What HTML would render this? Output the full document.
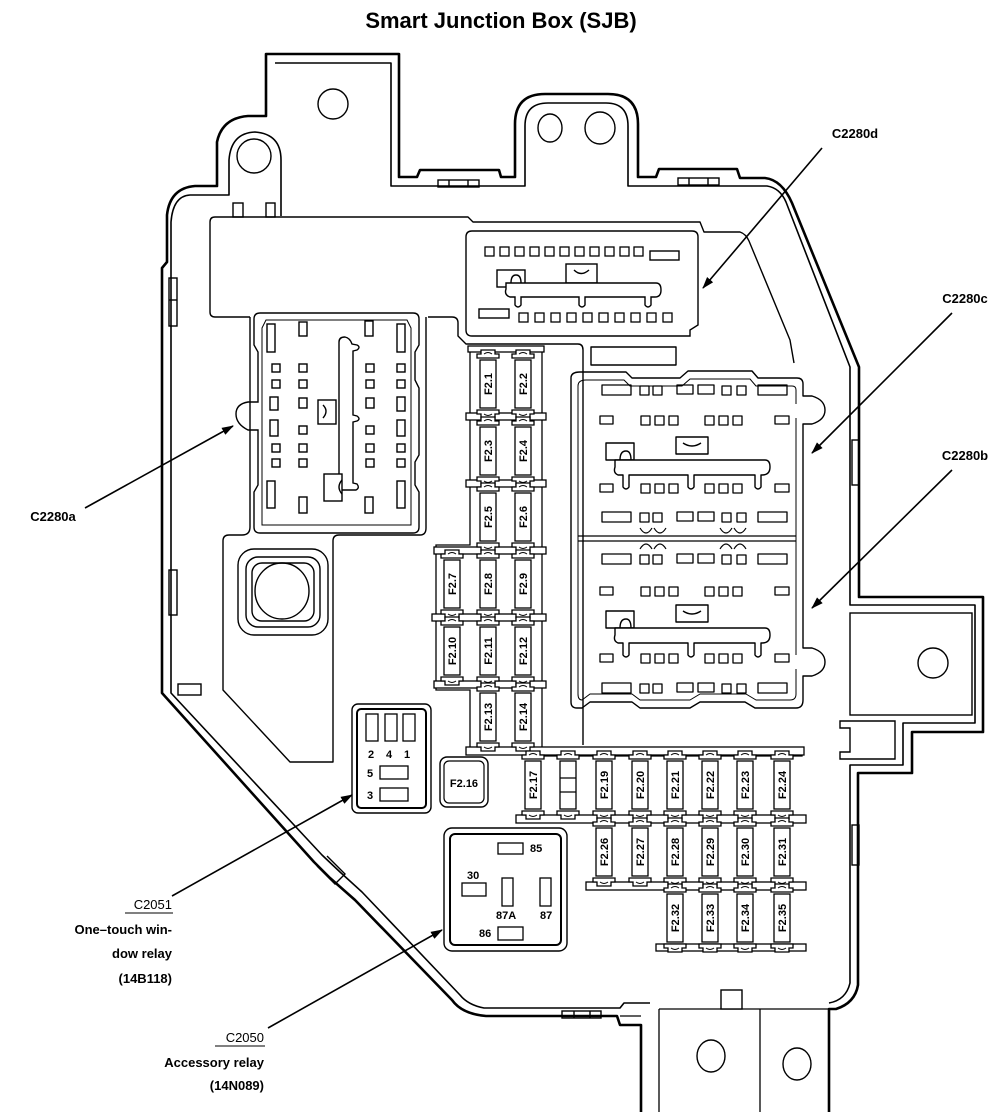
<!DOCTYPE html>
<html><head><meta charset="utf-8"><style>
html,body{margin:0;padding:0;background:#fff}
svg{display:block}
text{font-family:"Liberation Sans",Arial,sans-serif;fill:#000}
.f{font-size:11px;font-weight:bold}
.l{font-size:13px;font-weight:bold}
</style></head><body>
<svg width="1003" height="1119" viewBox="0 0 1003 1119" xmlns="http://www.w3.org/2000/svg">
<defs>
<marker id="ar" markerWidth="12" markerHeight="8" refX="11" refY="4" orient="auto" markerUnits="userSpaceOnUse"><path d="M0,0 L12,4 L0,8 z" fill="#000"/></marker>
<g id="fz">
<path d="M-11,-26 L-11,-30 L-7,-30 L-7,-34 L7,-34 L7,-30 L11,-30 L11,-26 Z" fill="#fff" stroke="#000" stroke-width="1.3"/>
<path d="M-11,26 L-11,30 L-7,30 L-7,34 L7,34 L7,30 L11,30 L11,26 Z" fill="#fff" stroke="#000" stroke-width="1.3"/>
<rect x="-8" y="-24" width="16" height="48" fill="#fff" stroke="#000" stroke-width="1.3"/>
<path d="M-4,-30 Q0,-33 4,-30 M-4,30 Q0,33 4,30" fill="none" stroke="#000" stroke-width="1"/>
</g>
<rect id="sq" width="9" height="9" fill="#fff" stroke="#000" stroke-width="1.3"/>
<g id="rowA">
<rect x="602" y="0" width="29" height="10" fill="none" stroke="#000" stroke-width="1.3"/>
<use href="#sq" x="640" y="1"/><use href="#sq" x="653" y="1"/>
<rect x="677" y="0" width="16" height="9" fill="none" stroke="#000" stroke-width="1.3"/>
<rect x="698" y="0" width="16" height="9" fill="none" stroke="#000" stroke-width="1.3"/>
<use href="#sq" x="722" y="1"/><use href="#sq" x="737" y="1"/>
<rect x="758" y="0" width="29" height="10" fill="none" stroke="#000" stroke-width="1.3"/>
</g>
<g id="rowB">
<rect x="600" y="0" width="13" height="8" fill="none" stroke="#000" stroke-width="1.3"/>
<use href="#sq" x="641" y="0"/><use href="#sq" x="655" y="0"/><use href="#sq" x="669" y="0"/>
<use href="#sq" x="705" y="0"/><use href="#sq" x="719" y="0"/><use href="#sq" x="733" y="0"/>
<rect x="775" y="0" width="14" height="8" fill="none" stroke="#000" stroke-width="1.3"/>
</g>
<g id="latch" fill="#fff" stroke="#000" stroke-width="1.4">
<rect x="606" y="0" width="28" height="17"/>
<rect x="676" y="-6" width="32" height="17"/>
<path d="M683,0 Q692,6 701,0" fill="none"/>
<path d="M615,17 L765,17 Q770,17 770,24 Q770,32 762,32 L761,32 L761,44 Q758,48 755,44 L755,32 L694,32 L694,44 Q691,48 688,44 L688,32 L629,32 L629,44 Q626,48 623,44 L623,32 L618,32 Q613,30 615,24 Z"/>
<path d="M620,17 Q620,8 626,8 Q631,8 631,17" fill="none"/>
</g>
</defs>

<text x="501" y="28" text-anchor="middle" style="font-size:22px;font-weight:bold">Smart Junction Box (SJB)</text>

<!-- outer housing -->
<g fill="none" stroke="#000" stroke-linejoin="round">
<path stroke-width="2.6" d="M641,1112 L641,1025 L620,1025 L617,1016 L486,1016 Q462,1014 452,1000 L355,900 L330,878 L314,862 L162,693 L162,268 L167,262 L167,215 Q170,188 195,186 L217,186 L217,142 Q222,118 248,116 L266,116 L266,54 L399,54 L399,177 L417,177 L420,170 L499,170 L501,177 L515,177 L515,124 Q515,94 545,94 L608,94 Q638,94 638,124 L638,177 L656,177 L659,169 L737,169 L740,178 L765,178 Q782,180 792,203 L859,367 L859,597 L983,597 L983,732 L912,732 L912,773 L858,773 L858,985 Q855,1003 836,1009 L829,1009 L829,1112"/>
<path stroke-width="1.6" d="M281,216 L281,160 Q281,134 255,132 Q231,133 229,160 L229,195 L190,195 Q173,196 171,222 L171,693 L322,855 L340,872 L362,892 L460,995 Q468,1005 484,1008 L620,1008 L624,1003 L650,1003"/>
<path stroke-width="1.6" d="M275,63 L391,63 L391,186 L525,186 L525,126 Q525,103 548,103 L606,103 Q628,103 628,126 L628,186 L767,186 Q780,188 786,202 L850,367 L850,605 L975,605 L975,723 L903,723 L903,765 L850,765 L850,983 Q846,1000 829,1003"/>
<path stroke-width="1.3" d="M659,1009 L829,1009 M760,1009 L760,1112 M659,1009 L659,1112 M620,1016 L641,1016"/>
</g>
<!-- mounting holes etc -->
<g fill="none" stroke="#000" stroke-width="1.4">
<circle cx="333" cy="104" r="15"/>
<circle cx="254" cy="156" r="17"/>
<ellipse cx="550" cy="128" rx="12" ry="14"/>
<ellipse cx="600" cy="128" rx="15" ry="16"/>
<circle cx="933" cy="663" r="15"/>
<ellipse cx="711" cy="1056" rx="14" ry="16"/>
<ellipse cx="797" cy="1064" rx="14" ry="16"/>
<rect x="850" y="613" width="122" height="102"/>
<path d="M840,721 L895,721 L895,759 L840,759 L840,752 L850,752 L850,728 L840,728 Z"/>
<rect x="721" y="990" width="21" height="19" fill="#fff"/>
<rect x="169" y="278" width="8" height="48"/><line x1="169" y1="300" x2="177" y2="300"/>
<rect x="169" y="570" width="8" height="45"/>
<rect x="852" y="440" width="7" height="45"/>
<rect x="852" y="825" width="7" height="40"/>
<rect x="438" y="180" width="41" height="7"/><line x1="449" y1="180" x2="449" y2="187"/><line x1="468" y1="180" x2="468" y2="187"/>
<rect x="678" y="178" width="41" height="7"/><line x1="689" y1="178" x2="689" y2="185"/><line x1="708" y1="178" x2="708" y2="185"/>
<rect x="562" y="1011" width="39" height="7"/><line x1="574" y1="1011" x2="574" y2="1018"/><line x1="590" y1="1011" x2="590" y2="1018"/>
<path d="M317,866 L335,884 L345,874 L327,856"/>
<rect x="178" y="684" width="23" height="11"/>
<rect x="233" y="203" width="10" height="14"/><rect x="266" y="203" width="9" height="14"/>
</g>

<!-- inner panel -->
<g fill="none" stroke="#000" stroke-width="1.4" stroke-linejoin="round">
<path d="M250,317 L215,317 Q210,317 210,312 L210,222 Q210,217 215,217 L468,217 L473,222 L700,222 L704,232 L740,232 Q746,234 749,241 L790,340 L794,363"/>
<path d="M428,317 L452,317 Q458,317 458,323 L458,336 L466,344 L578,344 Q583,344 583,350 L583,745"/>
<path d="M250,317 L250,527 Q250,535 242,535 L229,535 Q223,535 223,541 L223,690 L290,762 L333,762 L333,541 Q333,535 339,535 L420,535 Q426,535 426,528 L426,317"/>
<rect x="238" y="549" width="90" height="86" rx="16"/>
<rect x="246" y="557" width="74" height="70" rx="12"/>
<rect x="252" y="563" width="62" height="58" rx="10"/>
<ellipse cx="282" cy="591" rx="27" ry="28"/>
<rect x="591" y="347" width="85" height="18"/>
</g>

<!-- C2280d -->
<g stroke="#000" stroke-width="1.4" fill="none">
<path d="M472,231 L692,231 Q698,231 698,237 L698,325 L690,330 L690,336 L472,336 Q466,336 466,330 L466,237 Q466,231 472,231 Z"/>
<use href="#sq" x="485" y="247"/><use href="#sq" x="500" y="247"/><use href="#sq" x="515" y="247"/><use href="#sq" x="530" y="247"/><use href="#sq" x="545" y="247"/><use href="#sq" x="560" y="247"/><use href="#sq" x="575" y="247"/><use href="#sq" x="590" y="247"/><use href="#sq" x="605" y="247"/><use href="#sq" x="620" y="247"/><use href="#sq" x="634" y="247"/>
<rect x="650" y="251" width="29" height="9"/>
<rect x="479" y="309" width="30" height="9"/>
<use href="#sq" x="519" y="313"/><use href="#sq" x="535" y="313"/><use href="#sq" x="551" y="313"/><use href="#sq" x="567" y="313"/><use href="#sq" x="583" y="313"/><use href="#sq" x="599" y="313"/><use href="#sq" x="615" y="313"/><use href="#sq" x="631" y="313"/><use href="#sq" x="647" y="313"/><use href="#sq" x="663" y="313"/>
<rect x="497" y="270" width="28" height="17" fill="#fff"/>
<rect x="566" y="264" width="31" height="19" fill="#fff"/>
<path d="M574,270 Q581,277 589,270"/>
<path d="M506,283 L656,283 Q661,283 661,290 Q661,297 655,297 L651,297 L651,305 Q648,309 645,305 L645,297 L585,297 L585,305 Q582,309 579,305 L579,297 L521,297 L521,305 Q518,309 515,305 L515,297 L510,297 Q504,295 506,289 Z" fill="#fff"/>
<path d="M511,283 Q511,275 516,275 Q521,275 521,283"/>
</g>

<!-- C2280a -->
<g stroke="#000" stroke-width="1.4" fill="none">
<path d="M260,313 L413,313 Q419,313 419,319 L419,345 L415,352 L415,380 L419,388 L419,455 L415,462 L415,485 L419,492 L419,527 Q419,533 413,533 L260,533 Q254,533 254,527 L254,492 L258,485 L258,430 L248,430 Q236,424 236,414 Q236,404 248,402 L258,402 L258,352 L254,345 L254,319 Q254,313 260,313 Z"/>
<path d="M266,320 L407,320 L411,328 L411,525 L262,525 L262,328 Z" stroke-width="1"/>
<rect x="267" y="324" width="8" height="28"/><rect x="299" y="322" width="8" height="14"/><rect x="365" y="321" width="8" height="15"/><rect x="397" y="324" width="8" height="28"/>
<rect x="272" y="364" width="8" height="8"/><rect x="299" y="364" width="8" height="8"/><rect x="366" y="364" width="8" height="8"/><rect x="397" y="364" width="8" height="8"/>
<rect x="272" y="380" width="8" height="8"/><rect x="299" y="380" width="8" height="8"/><rect x="366" y="380" width="8" height="8"/><rect x="397" y="380" width="8" height="8"/>
<rect x="270" y="397" width="8" height="13"/><rect x="299" y="398" width="8" height="10"/><rect x="366" y="398" width="8" height="10"/><rect x="397" y="397" width="8" height="14"/>
<rect x="270" y="420" width="8" height="16"/><rect x="299" y="426" width="8" height="8"/><rect x="366" y="426" width="8" height="8"/><rect x="397" y="420" width="8" height="16"/>
<rect x="272" y="444" width="8" height="8"/><rect x="299" y="444" width="8" height="8"/><rect x="366" y="444" width="8" height="8"/><rect x="397" y="444" width="8" height="8"/>
<rect x="272" y="459" width="8" height="8"/><rect x="299" y="459" width="8" height="8"/><rect x="366" y="459" width="8" height="8"/><rect x="397" y="459" width="8" height="8"/>
<rect x="267" y="481" width="8" height="27"/><rect x="299" y="497" width="8" height="16"/><rect x="365" y="497" width="8" height="16"/><rect x="397" y="481" width="8" height="27"/>
<path d="M339,342 Q339,337 345,337 Q350,338 352,344 L357,345 Q361,347 357,350 L353,351 L353,415 L357,416 Q361,419 357,421 L353,422 L353,483 L357,484 Q360,488 356,490 L339,490 Z" fill="#fff"/>
<rect x="318" y="400" width="18" height="24" fill="#fff"/><path d="M323,405 Q329,411 323,418"/>
<rect x="324" y="474" width="18" height="27" fill="#fff"/><path d="M342,480 Q336,487 342,494"/>
</g>

<!-- C2280c / C2280b -->
<g stroke="#000" stroke-width="1.4" fill="none" stroke-linejoin="round">
<path d="M580,372 L626,372 L632,378 L680,378 L688,371 L752,371 L758,378 L797,378 Q803,378 803,384 L803,396 L812,396 Q825,400 825,410 Q825,420 812,424 L803,424 L803,648 L812,648 Q825,652 825,662 Q825,672 812,676 L803,676 L803,700 Q803,708 796,708 L755,708 L745,702 L700,702 L690,708 L640,708 L632,702 L590,702 L582,708 L577,708 Q571,708 571,702 L571,378 Q571,372 580,372 Z"/>
<path d="M796,418 L796,655 M796,669 L796,694 Q796,700 790,700 L756,700 L746,694 L700,694 L690,700 L640,700 L632,694 L590,694 L582,700 Q578,700 578,694 L578,386 Q578,380 586,380 L624,380 L630,386 L682,386 L690,379 L750,379 L756,386 L792,386 Q796,386 796,390 L796,404" stroke-width="1"/>
<path d="M578,536 L796,536 M578,541 L796,541" stroke-width="1.2"/>
<path d="M640,528 Q646,538 652,528 M654,528 Q660,538 666,528 M720,528 Q726,538 732,528 M734,528 Q740,538 746,528 M640,549 Q646,539 652,549 M654,549 Q660,539 666,549 M720,549 Q726,539 732,549 M734,549 Q740,539 746,549" stroke-width="1.2"/>
<use href="#rowA" y="385"/>
<use href="#rowB" y="416"/>
<use href="#latch" y="443"/>
<use href="#rowB" y="484"/>
<use href="#rowA" y="512"/>
<use href="#rowA" y="554"/>
<use href="#rowB" y="587"/>
<use href="#latch" y="611"/>
<use href="#rowB" y="654"/>
<use href="#rowA" y="683"/>
</g>

<!-- fuse frames -->
<g stroke="#000" stroke-width="1.3" fill="#fff">
<path d="M470,348 L542,348 L542,756 L802,756 L802,748 M470,348 L470,545 L436,545 L436,690 L470,690 L470,748 L520,748" fill="none"/>
<rect x="468" y="346" width="76" height="6"/>
<rect x="466" y="413" width="80" height="7"/>
<rect x="466" y="480" width="80" height="7"/>
<rect x="434" y="547" width="112" height="7"/>
<rect x="432" y="614" width="114" height="7"/>
<rect x="434" y="681" width="112" height="7"/>
<rect x="466" y="747" width="338" height="8"/>
<rect x="516" y="815" width="290" height="8"/>
<rect x="586" y="882" width="220" height="8"/>
<rect x="656" y="944" width="150" height="7"/>
</g>

<!-- fuses -->
<g>
<use href="#fz" x="488" y="384"/><use href="#fz" x="523" y="384"/>
<use href="#fz" x="488" y="451"/><use href="#fz" x="523" y="451"/>
<use href="#fz" x="488" y="517"/><use href="#fz" x="523" y="517"/>
<use href="#fz" x="452" y="584"/><use href="#fz" x="488" y="584"/><use href="#fz" x="523" y="584"/>
<use href="#fz" x="452" y="651"/><use href="#fz" x="488" y="651"/><use href="#fz" x="523" y="651"/>
<use href="#fz" x="488" y="717"/><use href="#fz" x="523" y="717"/>
<use href="#fz" x="533" y="785"/><use href="#fz" x="568" y="785"/><use href="#fz" x="604" y="785"/><use href="#fz" x="640" y="785"/><use href="#fz" x="675" y="785"/><use href="#fz" x="710" y="785"/><use href="#fz" x="745" y="785"/><use href="#fz" x="782" y="785"/>
<use href="#fz" x="604" y="852"/><use href="#fz" x="640" y="852"/><use href="#fz" x="675" y="852"/><use href="#fz" x="710" y="852"/><use href="#fz" x="745" y="852"/><use href="#fz" x="782" y="852"/>
<use href="#fz" x="675" y="918"/><use href="#fz" x="710" y="918"/><use href="#fz" x="745" y="918"/><use href="#fz" x="782" y="918"/>
<path d="M560,778 L576,778 M560,792 L576,792" stroke="#000" stroke-width="1.3"/>
</g>
<g text-anchor="middle">
<text class="f" transform="translate(492,384) rotate(-90)">F2.1</text>
<text class="f" transform="translate(527,384) rotate(-90)">F2.2</text>
<text class="f" transform="translate(492,451) rotate(-90)">F2.3</text>
<text class="f" transform="translate(527,451) rotate(-90)">F2.4</text>
<text class="f" transform="translate(492,517) rotate(-90)">F2.5</text>
<text class="f" transform="translate(527,517) rotate(-90)">F2.6</text>
<text class="f" transform="translate(456,584) rotate(-90)">F2.7</text>
<text class="f" transform="translate(492,584) rotate(-90)">F2.8</text>
<text class="f" transform="translate(527,584) rotate(-90)">F2.9</text>
<text class="f" transform="translate(456,651) rotate(-90)">F2.10</text>
<text class="f" transform="translate(492,651) rotate(-90)">F2.11</text>
<text class="f" transform="translate(527,651) rotate(-90)">F2.12</text>
<text class="f" transform="translate(492,717) rotate(-90)">F2.13</text>
<text class="f" transform="translate(527,717) rotate(-90)">F2.14</text>
<text class="f" transform="translate(537,785) rotate(-90)">F2.17</text>
<text class="f" transform="translate(608,785) rotate(-90)">F2.19</text>
<text class="f" transform="translate(644,785) rotate(-90)">F2.20</text>
<text class="f" transform="translate(679,785) rotate(-90)">F2.21</text>
<text class="f" transform="translate(714,785) rotate(-90)">F2.22</text>
<text class="f" transform="translate(749,785) rotate(-90)">F2.23</text>
<text class="f" transform="translate(786,785) rotate(-90)">F2.24</text>
<text class="f" transform="translate(608,852) rotate(-90)">F2.26</text>
<text class="f" transform="translate(644,852) rotate(-90)">F2.27</text>
<text class="f" transform="translate(679,852) rotate(-90)">F2.28</text>
<text class="f" transform="translate(714,852) rotate(-90)">F2.29</text>
<text class="f" transform="translate(749,852) rotate(-90)">F2.30</text>
<text class="f" transform="translate(786,852) rotate(-90)">F2.31</text>
<text class="f" transform="translate(679,918) rotate(-90)">F2.32</text>
<text class="f" transform="translate(714,918) rotate(-90)">F2.33</text>
<text class="f" transform="translate(749,918) rotate(-90)">F2.34</text>
<text class="f" transform="translate(786,918) rotate(-90)">F2.35</text>
</g>

<!-- relays -->
<g stroke="#000" fill="none">
<rect x="352" y="704" width="79" height="109" rx="6" stroke-width="1.4"/>
<rect x="357" y="709" width="69" height="99" rx="4" stroke-width="2"/>
<rect x="366" y="714" width="12" height="27" stroke-width="1.3"/>
<rect x="385" y="714" width="12" height="27" stroke-width="1.3"/>
<rect x="403" y="714" width="12" height="27" stroke-width="1.3"/>
<rect x="380" y="766" width="28" height="13" stroke-width="1.3"/>
<rect x="380" y="788" width="28" height="13" stroke-width="1.3"/>
<rect x="440" y="757" width="48" height="50" rx="7" stroke-width="1.4"/>
<rect x="444" y="761" width="40" height="42" rx="5" stroke-width="1.2"/>
<rect x="444" y="828" width="123" height="123" rx="8" stroke-width="1.4"/>
<rect x="450" y="834" width="111" height="111" rx="5" stroke-width="2"/>
<rect x="498" y="843" width="25" height="11" stroke-width="1.3"/>
<rect x="462" y="883" width="24" height="13" stroke-width="1.3"/>
<rect x="502" y="878" width="11" height="28" stroke-width="1.3"/>
<rect x="540" y="878" width="11" height="28" stroke-width="1.3"/>
<rect x="498" y="927" width="25" height="13" stroke-width="1.3"/>
</g>
<g>
<text x="368" y="758" class="f">2</text><text x="386" y="758" class="f">4</text><text x="404" y="758" class="f">1</text>
<text x="367" y="777" class="f">5</text><text x="367" y="799" class="f">3</text>
<text x="464" y="787" text-anchor="middle" class="f">F2.16</text>
<text x="530" y="852" class="f">85</text>
<text x="467" y="879" class="f">30</text>
<text x="496" y="919" class="f">87A</text>
<text x="540" y="919" class="f">87</text>
<text x="479" y="937" class="f">86</text>
</g>

<!-- callouts -->
<g stroke="#000" stroke-width="1.6" marker-end="url(#ar)">
<line x1="822" y1="148" x2="703" y2="288"/>
<line x1="952" y1="313" x2="812" y2="453"/>
<line x1="952" y1="470" x2="812" y2="608"/>
<line x1="85" y1="508" x2="233" y2="426"/>
<line x1="172" y1="896" x2="352" y2="795"/>
<line x1="268" y1="1028" x2="442" y2="930"/>
</g>
<g>
<text class="l" x="855" y="138" text-anchor="middle">C2280d</text>
<text class="l" x="965" y="303" text-anchor="middle">C2280c</text>
<text class="l" x="965" y="460" text-anchor="middle">C2280b</text>
<text class="l" x="53" y="521" text-anchor="middle">C2280a</text>
<text class="l" x="172" y="909" text-anchor="end" style="font-weight:normal">C2051</text>
<text class="l" x="172" y="934" text-anchor="end">One–touch win-</text>
<text class="l" x="172" y="958" text-anchor="end">dow relay</text>
<text class="l" x="172" y="983" text-anchor="end">(14B118)</text>
<text class="l" x="264" y="1042" text-anchor="end" style="font-weight:normal">C2050</text>
<text class="l" x="264" y="1067" text-anchor="end">Accessory relay</text>
<text class="l" x="264" y="1090" text-anchor="end">(14N089)</text>
</g>
<line x1="125" y1="913" x2="173" y2="913" stroke="#000" stroke-width="1"/>
<line x1="215" y1="1046" x2="265" y2="1046" stroke="#000" stroke-width="1"/>
</svg>
</body></html>
